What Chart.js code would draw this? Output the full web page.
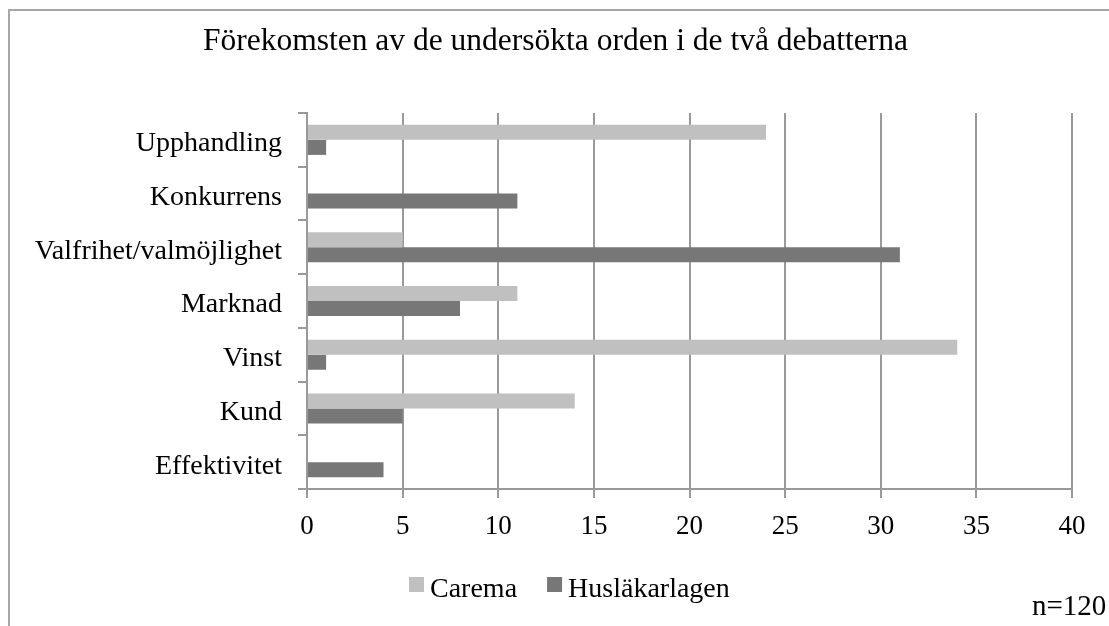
<!DOCTYPE html>
<html><head><meta charset="utf-8">
<script src="https://cdn.jsdelivr.net/npm/chart.js@4.4.1/dist/chart.umd.min.js"></script>
<style>html,body{margin:0;padding:0;background:#fff;} canvas{display:block;}</style>
</head><body>
<canvas id="c" width="1109" height="626"></canvas>
<script>
const categories = ['Upphandling', 'Konkurrens', 'Valfrihet/valmöjlighet', 'Marknad', 'Vinst', 'Kund', 'Effektivitet'];
const caremaValues = [24, 0, 5, 11, 34, 14, 0];
const huslakarlagenValues = [1, 11, 31, 8, 1, 5, 4];
const seriesNames = ['Carema', 'Husläkarlagen'];
const xTickMin = 0, xTickMax = 40, xTickStep = 5;
const titleText = 'Förekomsten av de undersökta orden i de två debatterna';
const noteText = 'n=120';

const FONT = "'Liberation Serif', 'Times New Roman', serif";
Chart.defaults.font.family = FONT;
Chart.defaults.color = '#000';

const frameAndExtras = {
  id: 'frameAndExtras',
  beforeDraw(chart) {
    const ctx = chart.ctx; ctx.save();
    ctx.fillStyle = '#fff'; ctx.fillRect(0, 0, chart.width, chart.height);
    ctx.restore();
  },
  afterDraw(chart) {
    const ctx = chart.ctx; ctx.save();
    ctx.strokeStyle = '#a6a6a6'; ctx.lineWidth = 2;
    ctx.strokeRect(9, 10, chart.width + 50, chart.height + 50);
    ctx.fillStyle = '#000';
    ctx.font = '31.5px ' + FONT; ctx.textBaseline = 'alphabetic'; ctx.textAlign = 'center';
    ctx.fillText(titleText, 555.5, 49.5);
    ctx.font = '28px ' + FONT; ctx.textAlign = 'left';
    let x = 409;
    chart.data.datasets.forEach((ds) => {
      ctx.fillStyle = ds.backgroundColor; ctx.fillRect(x, 577, 15, 15);
      ctx.fillStyle = '#000'; ctx.fillText(ds.label, x + 21, 597);
      x += 21 + ctx.measureText(ds.label).width + 30;
    });
    ctx.font = '29px ' + FONT; ctx.fillText(noteText, 1032, 615);
    ctx.restore();
  }
};

new Chart(document.getElementById('c'), {
  type: 'bar',
  data: {
    labels: categories,
    datasets: [
      { label: seriesNames[0], data: caremaValues, backgroundColor: '#c0c0c0', borderWidth: 0, categoryPercentage: 0.56, barPercentage: 1.0 },
      { label: seriesNames[1], data: huslakarlagenValues, backgroundColor: '#777777', borderWidth: 0, categoryPercentage: 0.56, barPercentage: 1.0 }
    ]
  },
  options: {
    indexAxis: 'y',
    responsive: false,
    animation: false,
    events: [],
    layout: { padding: { left: 0, right: 37, top: 113, bottom: 0 } },
    plugins: {
      legend: { display: false },
      tooltip: { enabled: false },
      title: { display: false }
    },
    scales: {
      x: {
        type: 'linear', min: xTickMin, max: xTickMax,
        ticks: { stepSize: xTickStep, font: { size: 27 }, color: '#000', padding: 13 },
        grid: { color: '#999', lineWidth: 2, tickLength: 9, drawTicks: true },
        border: { display: true, color: '#999', width: 2 },
        afterFit(s) { s.height = 137; }
      },
      y: {
        ticks: { font: { size: 28 }, color: '#000', padding: 16, labelOffset: 4 },
        grid: { drawOnChartArea: false, drawTicks: true, tickLength: 9, color: '#999', lineWidth: 2, offset: true },
        border: { display: true, color: '#999', width: 2 },
        afterFit(s) { s.width = 307; }
      }
    }
  },
  plugins: [frameAndExtras]
});
</script>
</body></html>
